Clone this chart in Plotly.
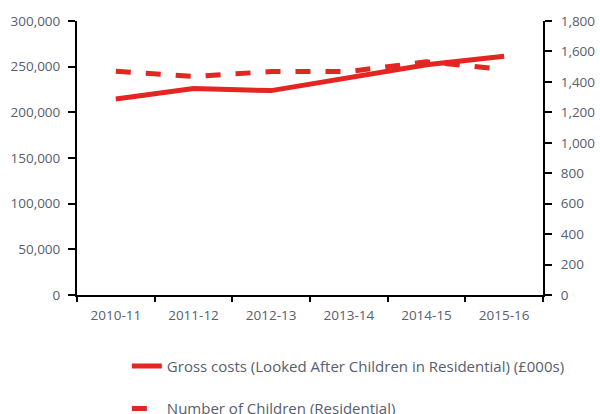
import plotly.graph_objects as go

years = ["2010-11", "2011-12", "2012-13", "2013-14", "2014-15", "2015-16"]
gross_costs = [214500, 226000, 223800, 238000, 252000, 261500]
num_children = [1470, 1435, 1468, 1468, 1532, 1481]

red = "#E52521"
text_col = "#56606E"
font_fam = "Open Sans, Liberation Sans, sans-serif"

fig = go.Figure()
fig.add_trace(go.Scatter(
    x=years, y=gross_costs, mode="lines",
    name="Gross costs (Looked After Children in Residential) (£000s)",
    line=dict(color=red, width=5),
    legendgroup="a", yaxis="y",
))
fig.add_trace(go.Scatter(
    x=years, y=num_children, mode="lines",
    name="Number of Children (Residential)",
    line=dict(color=red, width=5, dash="dash"),
    legendgroup="b", yaxis="y2",
))

axis_common = dict(
    showgrid=False, zeroline=False, showline=True, linecolor="black", linewidth=2,
    ticks="outside", tickcolor="black", tickwidth=1.5,
    tickfont=dict(family=font_fam, size=13.5, color=text_col),
)

fig.update_layout(
    width=600, height=414,
    margin=dict(l=77, r=57, t=21, b=119, autoexpand=False),
    paper_bgcolor="white", plot_bgcolor="white",
    xaxis=dict(type="category", tickson="boundaries", range=[-0.5, 5.5],
               ticklen=5, ticklabelstandoff=7, **axis_common),
    yaxis=dict(range=[0, 300000], dtick=50000, tickformat=",",
               ticklen=7, ticklabelstandoff=5, **axis_common),
    yaxis2=dict(range=[0, 1800], dtick=200, tickformat=",", overlaying="y", side="right",
                ticklen=7, ticklabelstandoff=6, **axis_common),
    showlegend=True,
    legend=dict(
        x=0.107, y=-0.2, xanchor="left", yanchor="top",
        orientation="v", traceorder="grouped", tracegroupgap=20,
        font=dict(family=font_fam, size=15, color=text_col),
        bgcolor="rgba(0,0,0,0)",
    ),
)

fig.write_html("out.html")
